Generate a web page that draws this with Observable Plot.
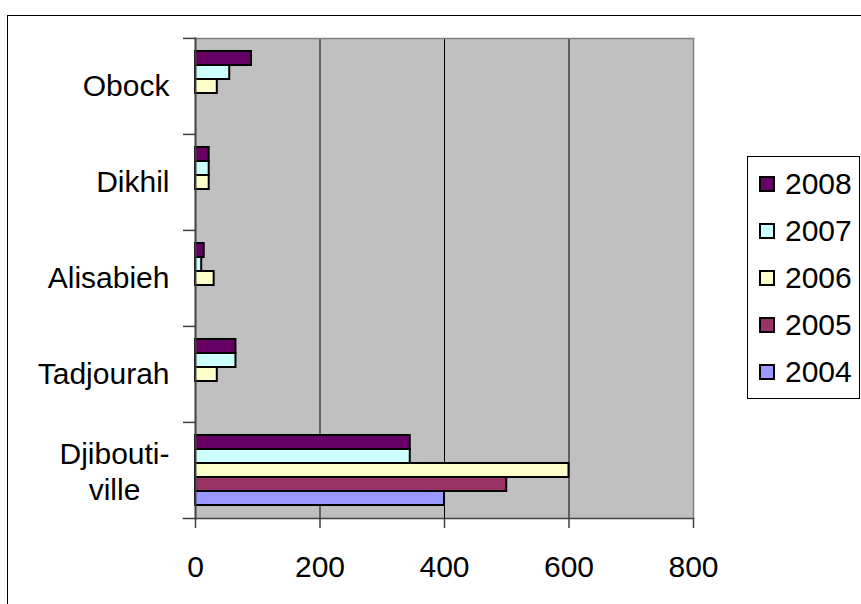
<!DOCTYPE html>
<html>
<head>
<meta charset="utf-8">
<script src="https://cdn.jsdelivr.net/npm/d3@7"></script>
<script src="https://cdn.jsdelivr.net/npm/@observablehq/plot@0.6"></script>
<style>
  html, body { margin: 0; padding: 0; background: #fff; overflow: hidden; }
  #wrap { position: relative; width: 861px; height: 604px; overflow: hidden;
          font-family: "Liberation Sans", Arial, Helvetica, sans-serif; }
  #border { position: absolute; left: 7px; top: 15px; width: 900px; height: 700px;
            border: 1.5px solid #000; box-sizing: border-box; }
  #chart { position: absolute; left: 0; top: 0; }
  #legend { position: absolute; left: 747px; top: 156px; width: 113px;
            border: 1.5px solid #000; box-sizing: border-box; background: #fff;
            padding: 3px 0; }
  .row { height: 47px; display: flex; align-items: center; font-size: 30px; color: #000; }
  .sw { width: 16px; height: 16px; box-sizing: border-box; border: 2px solid #000;
        margin-left: 11px; margin-right: 10px; }
</style>
</head>
<body>
<div id="wrap">
  <div id="border"></div>
  <div id="chart"></div>
  <div id="legend"></div>
</div>
<script>
// Districts, top to bottom
const regions = ["Obock", "Dikhil", "Alisabieh", "Tadjourah", "Djibouti-ville"];
const regionLabels = ["Obock", "Dikhil", "Alisabieh", "Tadjourah", "Djibouti-\nville"];

// Series, in the order they are stacked inside each group (top first)
const years = ["2008", "2007", "2006", "2005", "2004"];
const colors = ["#660066", "#ccffff", "#ffffcc", "#993366", "#9999ff"];

// Values per district (same order as regions); null = no bar
const v2008 = [90, 22, 14, 65, 345];
const v2007 = [55, 22, 10, 65, 345];
const v2006 = [35, 22, 30, 35, 600];
const v2005 = [null, null, null, null, 500];
const v2004 = [null, null, null, null, 400];

const xTicks = [0, 200, 400, 600, 800];
const gridTicks = [200, 400, 600];

const series = [v2008, v2007, v2006, v2005, v2004];
const data = regions.flatMap((region, i) =>
  years.map((year, j) => ({region, year, value: series[j][i]}))
).filter(d => d.value != null);

const labelRows = regions.map((region, i) => ({region, label: regionLabels[i]}));

const chart = Plot.plot({
  width: 720,
  height: 604,
  marginLeft: 195,
  marginRight: 27,
  marginTop: 37,
  marginBottom: 86,
  style: {fontFamily: "'Liberation Sans', Arial, Helvetica, sans-serif", fontSize: "30px", background: "transparent"},
  x: {domain: [0, 800], axis: null, label: null},
  y: {domain: years, paddingInner: 0, paddingOuter: 0.74, axis: null, label: null},
  fy: {domain: regions, padding: 0, axis: null, label: null},
  color: {domain: years, range: colors},
  marks: [
    // plot area
    Plot.frame({facet: "super", fill: "#c0c0c0"}),
    Plot.ruleX(gridTicks, {stroke: "#000", strokeWidth: 1}),
    Plot.ruleX([800], {stroke: "#808080", strokeWidth: 1.5}),
    Plot.frame({facet: "super", anchor: "top", stroke: "#808080", strokeWidth: 1.5}),
    // bars
    Plot.barX(data, {
      fy: "region", y: "year", x: "value",
      fill: "year", stroke: "#000", strokeWidth: 2
    }),
    // axis lines
    Plot.frame({facet: "super", anchor: "left", stroke: "#404040", strokeWidth: 2}),
    Plot.frame({facet: "super", anchor: "bottom", stroke: "#404040", strokeWidth: 1.5, insetLeft: -12}),
    // category tick marks on group boundaries
    Plot.axisFy({anchor: "left", label: null, tickSize: 12, tickFormat: () => "", dy: -48.1, stroke: "#404040", strokeWidth: 1.5}),
    // category labels
    Plot.text(labelRows.filter(d => !d.label.includes("\n")), {
      fy: "region", text: "label", frameAnchor: "left", textAnchor: "end", dx: -26, fill: "#000"
    }),
    Plot.text(labelRows.filter(d => d.label.includes("\n")), {
      fy: "region", text: "label", frameAnchor: "left", textAnchor: "middle", dx: -81, lineHeight: 1.2, fill: "#000"
    }),
    // value axis
    Plot.axisX({ticks: xTicks, label: null, tickSize: 10, tickPadding: 27, stroke: "#404040", strokeWidth: 1.5, fill: "#000", tickFormat: d => String(d)})
  ]
});
document.getElementById("chart").appendChild(chart);

// legend built from the same series list
const legend = document.getElementById("legend");
years.forEach((year, i) => {
  const row = document.createElement("div");
  row.className = "row";
  const sw = document.createElement("span");
  sw.className = "sw";
  sw.style.background = colors[i];
  const t = document.createElement("span");
  t.textContent = year;
  row.appendChild(sw);
  row.appendChild(t);
  legend.appendChild(row);
});
</script>
</body>
</html>
